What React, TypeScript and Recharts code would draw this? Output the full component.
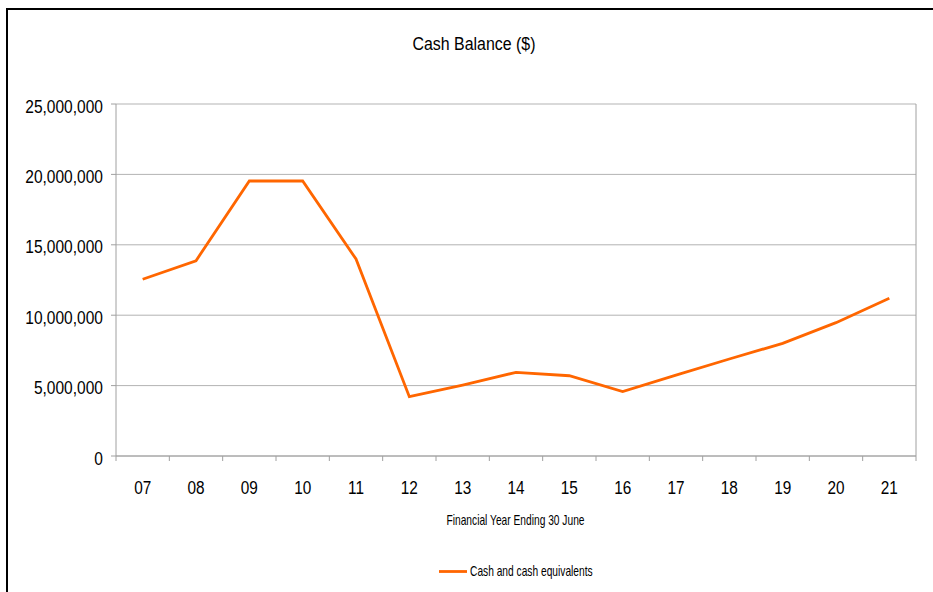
import React from 'react';
import { LineChart, Line, XAxis, YAxis, CartesianGrid, ReferenceLine } from 'recharts';

const categories = ['07', '08', '09', '10', '11', '12', '13', '14', '15', '16', '17', '18', '19', '20', '21'];
const cashValues = [12550000, 13870000, 19530000, 19530000, 13990000, 4210000, 5040000, 5940000, 5700000, 4570000, 5750000, 6890000, 8000000, 9470000, 11200000];
const yTicks = [0, 5000000, 10000000, 15000000, 20000000, 25000000];
const seriesName = 'Cash and cash equivalents';
const chartTitle = 'Cash Balance ($)';
const xTitle = 'Financial Year Ending 30 June';

const data = categories.map((c, i) => ({ x: i + 0.5, cat: c, value: cashValues[i] }));
const xTicks: number[] = [];
for (let i = 0; i <= categories.length; i++) {
  xTicks.push(i);
  if (i < categories.length) xTicks.push(i + 0.5);
}

const FONT = "'Liberation Sans', Arial, sans-serif";
const AXIS = '#a0a0a0';
const GRID = '#b3b3b3';
const ORANGE = '#ff6600';

const NarrowText = ({ x, y, anchor, size, squeeze = 0.83, children }: any) => (
  <text
    transform={`translate(${x},${y}) scale(${squeeze},1)`}
    x={0}
    y={0}
    textAnchor={anchor}
    fontFamily={FONT}
    fontSize={size}
    fill="#000"
  >
    {children}
  </text>
);

const XTick = (props: any) => {
  const { x, y, payload } = props;
  const v = payload.value;
  if (Number.isInteger(v)) {
    return <line x1={x} x2={x} y1={y} y2={y + 5} stroke={AXIS} strokeWidth={1} />;
  }
  const idx = Math.floor(v);
  return (
    <NarrowText x={x} y={y + 38} anchor="middle" size={18.5}>
      {categories[idx]}
    </NarrowText>
  );
};

const YTick = (props: any) => {
  const { x, y, payload } = props;
  return (
    <NarrowText x={x} y={y + 8.5} anchor="end" size={18.5} squeeze={0.84}>
      {Number(payload.value).toLocaleString('en-US')}
    </NarrowText>
  );
};

export default function App() {
  return (
    <div style={{ position: 'absolute', left: 0, top: 0, width: 933, height: 592, overflow: 'hidden', background: '#fff' }}>
      <div style={{ position: 'absolute', left: 6, top: 8, width: 1000, height: 1000, border: '2px solid #000' }} />
      <div style={{ position: 'absolute', left: 0, top: 0 }}>
        <LineChart width={933} height={592} data={data} margin={{ top: 104, right: 17, bottom: 106, left: 16 }}>
          <CartesianGrid horizontal={true} vertical={false} stroke={GRID} />
          <XAxis
            dataKey="x"
            type="number"
            domain={[0, categories.length]}
            ticks={xTicks}
            interval={0}
            tickSize={0}
            tickMargin={0}
            tickLine={false}
            stroke={AXIS}
            height={30}
            tick={<XTick />}
          />
          <YAxis
            domain={[0, 25000000]}
            ticks={yTicks}
            interval={0}
            width={100}
            tickSize={5}
            tickMargin={8}
            stroke={AXIS}
            tick={<YTick />}
          />
          <ReferenceLine x={categories.length} stroke={AXIS} />
          <Line type="linear" dataKey="value" name={seriesName} stroke={ORANGE} strokeWidth={2.8} dot={false} isAnimationActive={false} />
        </LineChart>
      </div>
      <svg width={933} height={592} style={{ position: 'absolute', left: 0, top: 0, pointerEvents: 'none' }}>
        <NarrowText x={474} y={49.5} anchor="middle" size={17.7} squeeze={0.9}>{chartTitle}</NarrowText>
        <NarrowText x={515.5} y={525} anchor="middle" size={14} squeeze={0.73}>{xTitle}</NarrowText>
        <line x1={439} x2={467} y1={571.5} y2={571.5} stroke={ORANGE} strokeWidth={2.8} />
        <NarrowText x={470} y={575.5} anchor="start" size={14} squeeze={0.73}>{seriesName}</NarrowText>
      </svg>
    </div>
  );
}
